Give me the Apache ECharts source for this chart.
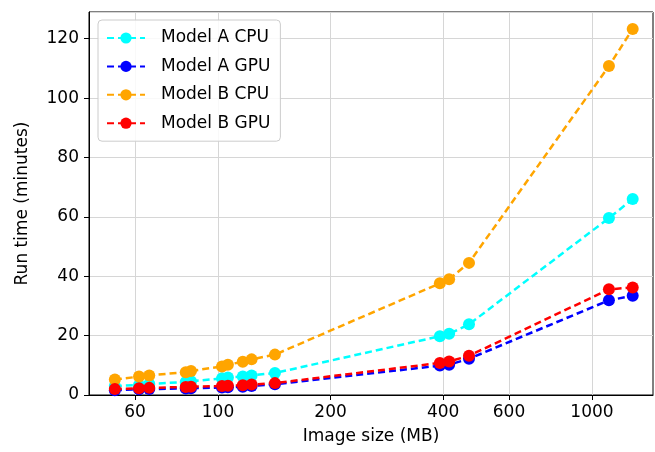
<!DOCTYPE html>
<html>
<head>
<meta charset="utf-8">
<script src="https://cdn.jsdelivr.net/npm/echarts@6/dist/echarts.min.js"></script>
<style>
  html, body { margin: 0; padding: 0; background: #fff; }
  #chart { width: 655px; height: 452px; }
</style>
</head>
<body>
<div id="chart"></div>
<script>
// image sizes in MB (x), run times in minutes (y)
const imageSizes = [53, 61.5, 65.5, 82, 84.7, 102.5, 106.3, 116.5, 123, 142, 392, 415, 469, 1110, 1285];
const modelACpu = [3.0, 3.4, 3.7, 4.4, 4.6, 5.6, 5.9, 6.2, 6.6, 7.4, 19.8, 20.6, 23.8, 59.6, 66.0];
const modelAGpu = [1.6, 1.9, 2.0, 2.2, 2.3, 2.5, 2.6, 2.8, 3.0, 3.6, 9.9, 10.2, 12.2, 31.9, 33.4];
const modelBCpu = [5.2, 6.2, 6.6, 7.7, 8.1, 9.6, 10.2, 11.2, 12.0, 13.6, 37.6, 39.0, 44.5, 110.8, 123.3];
const modelBGpu = [2.0, 2.3, 2.4, 2.7, 2.8, 3.0, 3.1, 3.3, 3.5, 4.0, 10.8, 11.3, 13.2, 35.6, 36.2];
const xTicks = [60, 100, 200, 400, 600, 1000];

const font = 'DejaVu Sans';

function makeSeries(name, values, color) {
  return {
    name: name,
    type: 'line',
    data: imageSizes.map((x, i) => [x, values[i]]),
    symbol: 'circle',
    symbolSize: 12,
    itemStyle: { color: color },
    lineStyle: { color: color, width: 2.5, type: [7, 4] },
    animation: false
  };
}

const myChart = echarts.init(document.getElementById('chart'), null, { renderer: 'canvas' });

const option = {
  animation: false,
  textStyle: { fontFamily: font },
  grid: {
    left: 89, right: 2, top: 12, bottom: 57,
    show: true, borderColor: '#000', borderWidth: 1, backgroundColor: 'transparent'
  },
  legend: {
    orient: 'vertical',
    left: 98, top: 20,
    padding: [8, 10, 8, 8],
    itemWidth: 38,
    itemHeight: 14,
    itemGap: 8.4,
    backgroundColor: 'rgba(255,255,255,0.85)',
    borderColor: '#cccccc',
    borderWidth: 1,
    borderRadius: 4,
    textStyle: { fontFamily: font, fontSize: 17, color: '#000', lineHeight: 20, padding: [0, 0, 0, 11] },
    data: ['Model A CPU', 'Model A GPU', 'Model B CPU', 'Model B GPU']
  },
  xAxis: {
    type: 'log',
    logBase: 10,
    min: 45.2,
    max: 1456,
    name: 'Image size (MB)',
    nameLocation: 'middle',
    nameGap: 33,
    nameTextStyle: { fontFamily: font, fontSize: 17, color: '#000' },
    axisLine: { show: true, onZero: false, lineStyle: { color: '#000', width: 1 } },
    axisTick: { show: true, length: 5, lineStyle: { color: '#000' }, customValues: xTicks },
    axisLabel: {
      fontFamily: font, fontSize: 17, color: '#000', margin: 9, customValues: xTicks,
      formatter: (v) => String(Math.round(v))
    },
    splitLine: { show: true, lineStyle: { color: '#d6d6d6', width: 1 } },
    minorTick: { show: false },
    minorSplitLine: { show: false }
  },
  yAxis: {
    type: 'value',
    min: 0,
    max: 129,
    interval: 20,
    name: 'Run time (minutes)',
    nameLocation: 'middle',
    nameGap: 58,
    nameTextStyle: { fontFamily: font, fontSize: 17, color: '#000' },
    axisLine: { show: true, lineStyle: { color: '#000', width: 1 } },
    axisTick: { show: true, length: 5, lineStyle: { color: '#000' } },
    axisLabel: { fontFamily: font, fontSize: 17, color: '#000', margin: 10, showMaxLabel: false },
    splitLine: { show: true, lineStyle: { color: '#d6d6d6', width: 1 } }
  },
  series: [
    makeSeries('Model A CPU', modelACpu, '#00ffff'),
    makeSeries('Model A GPU', modelAGpu, '#0000ff'),
    makeSeries('Model B CPU', modelBCpu, '#ffa500'),
    makeSeries('Model B GPU', modelBGpu, '#ff0000')
  ]
};

myChart.setOption(option);
</script>
</body>
</html>
